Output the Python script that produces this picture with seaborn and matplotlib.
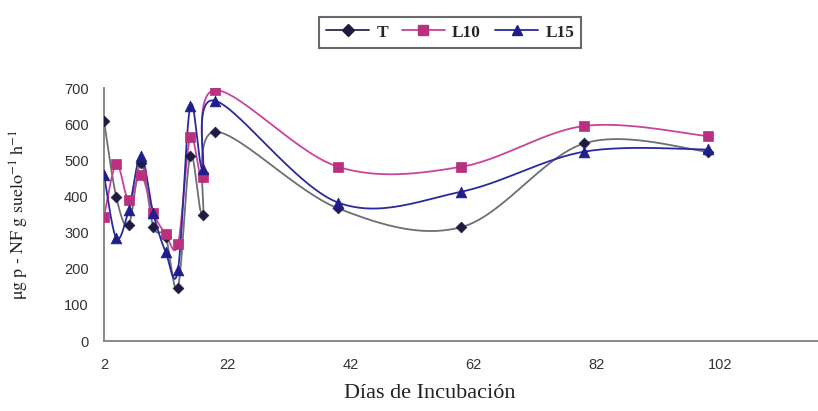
import numpy as np
import pandas as pd
import matplotlib
matplotlib.use("Agg")
import matplotlib.pyplot as plt
from matplotlib.lines import Line2D
import seaborn as sns

days = [2, 4, 6, 8, 10, 12, 14, 16, 18, 20, 40, 60, 80, 100]
t_vals = [609, 398, 321, 492, 316, 289, 148, 512, 350, 579, 367, 315, 547, 524]
l10_vals = [344, 489, 390, 459, 355, 296, 267, 564, 453, 694, 482, 482, 595, 567]
l15_vals = [459, 284, 362, 512, 353, 247, 196, 650, 475, 665, 383, 413, 524, 530]
series_names = ["T", "L10", "L15"]
x_ticks = [2, 22, 42, 62, 82, 102]
y_ticks = [0, 100, 200, 300, 400, 500, 600, 700]

sns.set_theme(style="white")
plt.rcParams["mathtext.fontset"] = "stix"

df = pd.DataFrame({
    "dia": days * 3,
    "valor": t_vals + l10_vals + l15_vals,
    "serie": sum([[n] * len(days) for n in series_names], []),
})

line_colors = {"T": "#6e6e74", "L10": "#c8449a", "L15": "#2a2aa0"}
mark_colors = {"T": "#1c1c40", "L10": "#b8307e", "L15": "#1e1e8c"}
markers = {"T": "D", "L10": "s", "L15": "^"}
msizes = {"T": 30, "L10": 48, "L15": 60}


def smooth(x, y, n=30):
    # Excel-like smoothed line (Catmull-Rom Bezier segments)
    x = np.asarray(x, float)
    y = np.asarray(y, float)
    px, py = [], []
    k = len(x)
    for i in range(k - 1):
        i0 = max(i - 1, 0)
        i3 = min(i + 2, k - 1)
        p0 = np.array([x[i], y[i]])
        p3 = np.array([x[i + 1], y[i + 1]])
        c1 = p0 + (np.array([x[i + 1], y[i + 1]]) - np.array([x[i0], y[i0]])) / 6
        c2 = p3 - (np.array([x[i3], y[i3]]) - np.array([x[i], y[i]])) / 6
        t = np.linspace(0, 1, n)[:, None]
        pts = ((1 - t) ** 3) * p0 + 3 * ((1 - t) ** 2) * t * c1 + 3 * (1 - t) * t ** 2 * c2 + t ** 3 * p3
        px.extend(pts[:, 0])
        py.extend(pts[:, 1])
    return px, py


fig = plt.figure(figsize=(8.18, 4.11), dpi=100)
ax = fig.add_axes([104 / 818, 70 / 411, 714 / 818, 253 / 411])

for name in series_names:
    sub = df[df["serie"] == name]
    sx, sy = smooth(sub["dia"], sub["valor"])
    ax.plot(sx, sy, color=line_colors[name], lw=1.3, zorder=2)
    sns.scatterplot(data=sub, x="dia", y="valor", marker=markers[name],
                    color=mark_colors[name], s=msizes[name], linewidth=0.5,
                    edgecolor=mark_colors[name], ax=ax, zorder=3, legend=False)

ax.set_xlim(2, 2 + 714 / 6.16)
ax.set_ylim(0, 700)
ax.set_xticks(x_ticks)
ax.set_yticks(y_ticks)
ax.set_xticklabels([str(v) for v in x_ticks], fontfamily="Liberation Sans", fontsize=10.5, color="#333333")
ax.set_yticklabels([str(v) for v in y_ticks], fontfamily="Liberation Sans", fontsize=10.5, color="#333333")
ax.tick_params(axis="both", which="both", direction="out", length=5, width=1, color="#808080")
ax.tick_params(axis="x", pad=7)
ax.tick_params(axis="y", pad=6)
for s in ["top", "right"]:
    ax.spines[s].set_visible(False)
for s in ["left", "bottom"]:
    ax.spines[s].set_color("#808080")
    ax.spines[s].set_linewidth(1.3)
ax.grid(False)

ax.set_xlabel("Días de Incubación", fontfamily="Liberation Serif", fontsize=16, color="#222222")
ax.xaxis.set_label_coords((430 - 104) / 714, -0.17)
ax.set_ylabel(r"$\mathrm{\mu g\ p\ \text{-}\ NF\ g\ suelo^{-1}\ h^{-1}}$", fontsize=13, color="#222222")
ax.yaxis.set_label_coords(-0.102, 0.5)

handles = [Line2D([0], [0], color=line_colors[n] if n != "T" else "#2a2a48", lw=1.3,
                  marker=markers[n], markersize=6 if n == "T" else 7,
                  markerfacecolor=mark_colors[n], markeredgecolor=mark_colors[n])
           for n in series_names]
leg = fig.legend(handles, series_names, loc="center", bbox_to_anchor=(450 / 818, 1 - 32.5 / 411),
                 ncol=3, frameon=True, fancybox=False, edgecolor="#444444",
                 handlelength=2.5, handletextpad=0.4, columnspacing=0.8, borderpad=0.4,
                 prop={"family": "Liberation Serif", "weight": "bold", "size": 12.5})
leg.get_frame().set_linewidth(1.5)

fig.savefig("out.png", dpi=100)
